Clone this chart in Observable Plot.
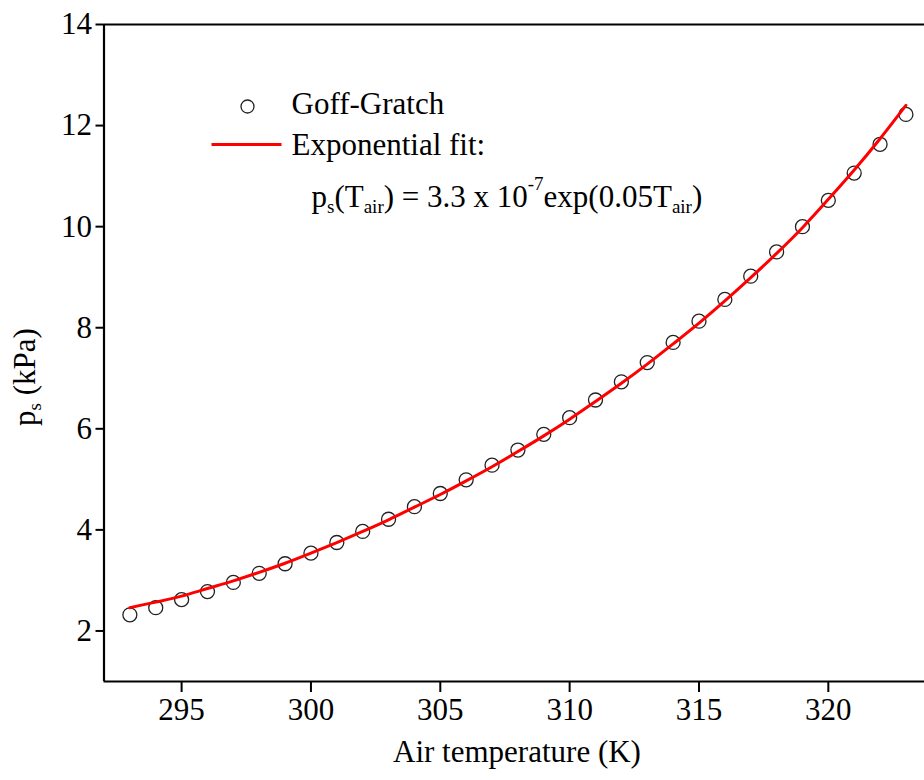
<!DOCTYPE html>
<html>
<head>
<meta charset="utf-8">
<script src="https://cdn.jsdelivr.net/npm/d3@7"></script>
<script src="https://cdn.jsdelivr.net/npm/@observablehq/plot@0.6"></script>
<style>
  body { margin: 0; background: white; }
  #wrap { position: relative; width: 924px; height: 780px; font-family: 'Liberation Serif', 'DejaVu Serif', serif; }
  #wrap > svg { position: absolute; left: 0; top: 0; }
  #wrap svg text { font-family: 'Liberation Serif', 'DejaVu Serif', serif !important; }
</style>
</head>
<body>
<div id="wrap"></div>
<script>
// Air temperature (K)
const temps = [293,294,295,296,297,298,299,300,301,302,303,304,305,306,307,308,309,310,311,312,313,314,315,316,317,318,319,320,321,322,323];
// Goff-Gratch saturation pressure (kPa)
const goffGratch = [2.32,2.46,2.62,2.78,2.96,3.14,3.33,3.54,3.75,3.97,4.21,4.46,4.72,4.99,5.28,5.58,5.89,6.22,6.57,6.93,7.31,7.71,8.13,8.56,9.02,9.50,10.00,10.52,11.06,11.63,12.22];
// Exponential fit curve (kPa)
const fitValues = [2.46,2.57,2.69,2.84,2.99,3.16,3.34,3.54,3.75,3.97,4.20,4.45,4.70,4.97,5.25,5.55,5.86,6.19,6.54,6.90,7.28,7.68,8.09,8.53,8.99,9.47,9.98,10.54,11.12,11.74,12.40];
const xTicks = [295,300,305,310,315,320];
const yTicks = [2,4,6,8,10,12,14];
const xDomain = [292, 324];
const yDomain = [1, 14];

const pts = temps.map((t, i) => ({t, p: goffGratch[i]}));
const fit = temps.map((t, i) => ({t, p: fitValues[i]}));

const font = "Liberation Serif, DejaVu Serif, serif";
const chart = Plot.plot({
  width: 924,
  height: 780,
  marginTop: 24,
  marginBottom: 99,
  marginLeft: 103.5,
  marginRight: 0,
  style: {fontFamily: font, fontSize: "31px", color: "black", background: "white"},
  x: {domain: xDomain, range: [103.5, 931.3]},
  y: {domain: yDomain, range: [681, 24]},
  marks: [
    Plot.dot(pts, {x: "t", y: "p", r: 7, stroke: "#222", strokeWidth: 1.3, fill: "none"}),
    Plot.line(fit, {x: "t", y: "p", stroke: "#ff0000", strokeWidth: 3, curve: "monotone-x"}),
    Plot.ruleX([xDomain[0]], {y1: yDomain[0], y2: yDomain[1], stroke: "black", strokeWidth: 2.2}),
    Plot.ruleY([yDomain[0]], {x1: xDomain[0], x2: xDomain[1], stroke: "black", strokeWidth: 2.2}),
    Plot.ruleY([yDomain[1]], {x1: xDomain[0], x2: xDomain[1], stroke: "black", strokeWidth: 2.2}),
    Plot.axisX({ticks: xTicks, tickSize: 11, tickPadding: 5, fontSize: 31, strokeWidth: 2, label: null, tickFormat: d => String(d)}),
    Plot.axisY({ticks: yTicks, tickSize: 8, tickPadding: 4, fontSize: 31, strokeWidth: 2, label: null, tickFormat: d => String(d)})
  ]
});
document.getElementById("wrap").appendChild(chart);

// Overlay: legend and axis titles
const ov = d3.select("#wrap").append("svg")
  .attr("width", 924).attr("height", 780)
  .attr("font-family", font).attr("font-size", 31);

ov.append("circle").attr("cx", 247.5).attr("cy", 106.5).attr("r", 6.5)
  .attr("fill", "none").attr("stroke", "#222").attr("stroke-width", 1.3);
ov.append("text").attr("x", 291.5).attr("y", 114).text("Goff-Gratch");
ov.append("line").attr("x1", 211.5).attr("x2", 281.5).attr("y1", 144.5).attr("y2", 144.5)
  .attr("stroke", "#ff0000").attr("stroke-width", 3);
ov.append("text").attr("x", 291.5).attr("y", 155).text("Exponential fit:");

const f = ov.append("text").attr("x", 311.5).attr("y", 207);
f.append("tspan").text("p");
f.append("tspan").attr("dy", 6).attr("font-size", 19).text("s");
f.append("tspan").attr("dy", -6).text("(T");
f.append("tspan").attr("dy", 6).attr("font-size", 19).text("air");
f.append("tspan").attr("dy", -6).text(") = 3.3 x 10");
f.append("tspan").attr("dy", -17).attr("font-size", 19).text("-7");
f.append("tspan").attr("dy", 17).text("exp(0.05T");
f.append("tspan").attr("dy", 6).attr("font-size", 19).text("air");
f.append("tspan").attr("dy", -6).text(")");

ov.append("text").attr("x", 517).attr("y", 762).attr("text-anchor", "middle").text("Air temperature (K)");

const yl = ov.append("text").attr("transform", "translate(35,377) rotate(-90)").attr("text-anchor", "middle");
yl.append("tspan").text("p");
yl.append("tspan").attr("dy", 6).attr("font-size", 19).text("s");
yl.append("tspan").attr("dy", -6).text(" (kPa)");
</script>
</body>
</html>
